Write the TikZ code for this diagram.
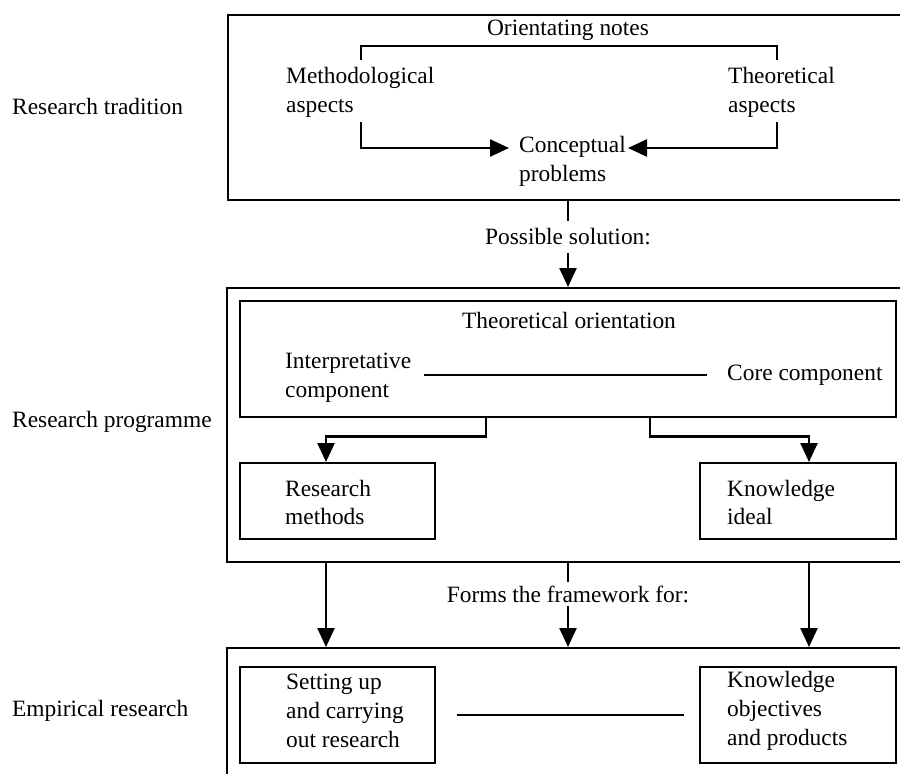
\documentclass[tikz,border=0pt]{standalone}
\usepackage{fontspec}
\setmainfont{Liberation Serif}
\usetikzlibrary{arrows.meta}
\begin{document}
\begin{tikzpicture}[x=1pt,y=-1pt,
  txt/.style={inner sep=0pt, font=\fontsize{23.4}{28.8}\selectfont},
  boxn/.style={draw, line width=1.7pt, inner sep=0pt, anchor=north west},
  conn/.style={line width=2.5pt},
  arr/.style={line width=2.5pt, -{Triangle[width=17pt,length=19pt]}}]
\fill[white] (0,0) rectangle (900,774);
\useasboundingbox (0,0) rectangle (900,774);
% left labels
\node[txt, anchor=west] (rt) at (12,106) {Research tradition};
\node[txt, anchor=west] (rp) at (12,422) {Research programme};
\node[txt, anchor=west] (er) at (12,711) {Empirical research};
% top box
\node[boxn, minimum width=690pt, minimum height=185pt] (tbox) at (227,14) {};
\node[txt] (orient) at (568,30) {Orientating notes};
\node[txt, align=left, anchor=west] (meth) at (286,92) {Methodological\\aspects};
\node[txt, align=left, anchor=west] (theo) at (728,92) {Theoretical\\aspects};
\node[txt, align=left, anchor=west] (conc) at (519,161) {Conceptual\\problems};
\coordinate (mtop) at (361,60);
\coordinate (ttop) at (777,60);
\coordinate (mbot) at (361,122);
\coordinate (tbot) at (777,122);
\coordinate (cinl) at (509,148);
\coordinate (cinr) at (628,148);
\draw[conn] (mtop) -- ++(0,-14) -| (ttop);
\draw[arr] (mbot) |- (cinl);
\draw[arr] (tbot) |- (cinr);
% possible solution
\node[txt, inner ysep=7.5pt] (sol) at (568,237) {Possible solution:};
\draw[conn] (tbox.south -| sol.north) -- (sol.north);
% middle box
\node[boxn, minimum width=690pt, minimum height=274pt] (mbox) at (226,287) {};
\draw[arr] (sol.south) -- (sol.south |- mbox.north);
\node[boxn, minimum width=656pt, minimum height=116pt] (tobox) at (239,300) {};
\node[txt] (to) at (569,320) {Theoretical orientation};
\node[txt, align=left, anchor=west] (interp) at (285,377.5) {Interpretative\\component};
\node[txt, anchor=west] (core) at (727,375) {Core component};
\draw[conn] ([xshift=13pt]interp.east |- core.west) -- ([xshift=-20pt]core.west);
\node[boxn, minimum width=195pt, minimum height=76pt] (rm) at (239,462) {};
\node[txt, align=left, anchor=west] (rmt) at (285,502.5) {Research\\methods};
\node[boxn, minimum width=196pt, minimum height=76pt] (ki) at (699,462) {};
\node[txt, align=left, anchor=west] (kit) at (727,502.5) {Knowledge\\ideal};
\draw[arr] ([xshift=247pt]tobox.south west) -- ++(0,19) -| ([xshift=87pt]rm.north west);
\draw[arr] ([xshift=411pt]tobox.south west) -- ++(0,19) -| ([xshift=110pt]ki.north west);
% forms the framework
\node[txt, inner ysep=3pt] (forms) at (568,594) {Forms the framework for:};
% bottom box
\node[boxn, minimum width=690pt, minimum height=150pt] (bbox) at (226,647) {};
\draw[conn] (forms.north |- mbox.south) -- (forms.north);
\draw[arr] (forms.south) -- (forms.south |- bbox.north);
\draw[arr] ([xshift=100pt]mbox.south west) -- ([xshift=100pt]bbox.north west);
\draw[arr] ([xshift=583pt]mbox.south west) -- ([xshift=583pt]bbox.north west);
\node[boxn, minimum width=195pt, minimum height=96pt] (su) at (239,666) {};
\node[txt, align=left, anchor=west] (sut) at (286,711) {Setting up\\and carrying\\out research};
\node[boxn, minimum width=196pt, minimum height=96pt] (ko) at (699,666) {};
\node[txt, align=left, anchor=west] (kot) at (727,711) {Knowledge\\objectives\\and products};
\draw[conn] ([xshift=21pt]su.east) -- ([xshift=-15pt]ko.west);
\end{tikzpicture}
\end{document}
